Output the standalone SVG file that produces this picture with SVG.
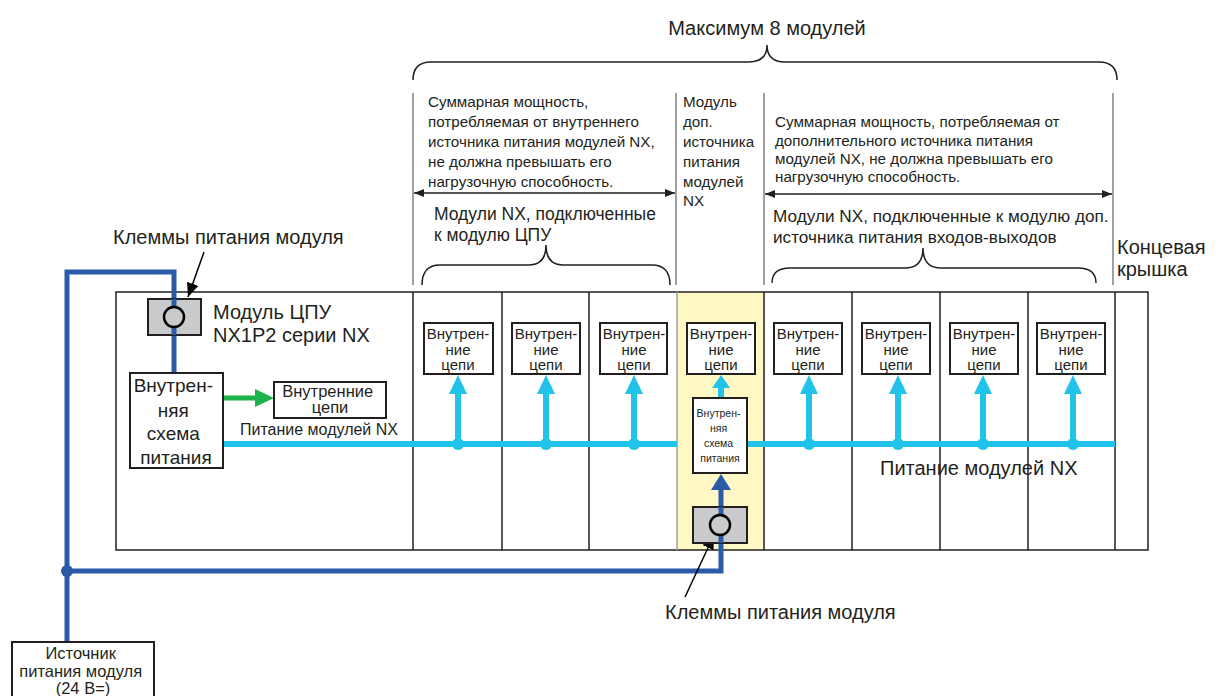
<svg xmlns="http://www.w3.org/2000/svg" width="1220" height="696" viewBox="0 0 1220 696">
  <defs>
    <style>
      text { font-family: "Liberation Sans", Arial, sans-serif; fill: #231f20; }
      .big { font-size: 20px; }
      .mid { font-size: 17.5px; }
      .small { font-size: 15.2px; }
      .box { fill: #ffffff; stroke: #231f20; stroke-width: 2; }
      .term { fill: #c9cacc; stroke: #231f20; stroke-width: 2; }
      .ring { fill: #c9cacc; stroke: #000; stroke-width: 2.5; }
      .mod { fill: none; stroke: #231f20; stroke-width: 1.5; }
      .dim { fill: none; stroke: #808080; stroke-width: 1.5; }
      .brace { fill: none; stroke: #231f20; stroke-width: 1.5; }
      .blue { fill: none; stroke: #2a5aa8; stroke-width: 5; }
      .cyan { fill: none; stroke: #22c3ea; stroke-width: 6; }
      .green { fill: none; stroke: #1db24b; stroke-width: 5; }
      .lead { fill: none; stroke: #000; stroke-width: 1.5; }
      .c { text-anchor: middle; }
    </style>
    <marker id="dimHead" viewBox="0 0 10 8" refX="10" refY="4" markerWidth="10" markerHeight="8" markerUnits="userSpaceOnUse" orient="auto-start-reverse">
      <path d="M0,0 L10,4 L0,8 Z" fill="#231f20"/>
    </marker>
    <marker id="leadHead" viewBox="0 0 14 12" refX="14" refY="6" markerWidth="14" markerHeight="12" markerUnits="userSpaceOnUse" orient="auto">
      <path d="M0,0 L14,6 L0,12 Z" fill="#000"/>
    </marker>
  </defs>

  <!-- rack of modules -->
  <g id="rack">
    <rect x="677" y="292" width="87" height="258" fill="#fff8c4"/>
    <rect x="116" y="292" width="1032" height="258" class="mod"/>
    <line x1="413" y1="292" x2="413" y2="550" class="mod"/>
    <line x1="502" y1="292" x2="502" y2="550" class="mod"/>
    <line x1="589" y1="292" x2="589" y2="550" class="mod"/>
    <line x1="677" y1="292" x2="677" y2="550" stroke="#a0a0a0" stroke-width="1.5"/>
    <line x1="764" y1="292" x2="764" y2="550" class="mod"/>
    <line x1="852" y1="292" x2="852" y2="550" class="mod"/>
    <line x1="940" y1="292" x2="940" y2="550" class="mod"/>
    <line x1="1028" y1="292" x2="1028" y2="550" class="mod"/>
    <line x1="1115" y1="292" x2="1115" y2="550" class="mod"/>
  </g>

  <!-- dimension annotations -->
  <g id="dimensions">
    <text x="767" y="35" class="big c">Максимум 8 модулей</text>
    <path class="brace" d="M413,80 Q413,62 431,62 L749,62 Q767,62 767,45 Q767,62 785,62 L1099,62 Q1117,62 1117,80"/>
    <line x1="413" y1="93" x2="413" y2="285" class="dim"/>
    <line x1="676" y1="93" x2="676" y2="285" class="dim"/>
    <line x1="764" y1="93" x2="764" y2="285" class="dim"/>
    <line x1="1113" y1="93" x2="1113" y2="285" class="dim"/>
    <line x1="414" y1="193" x2="675" y2="193" stroke="#231f20" stroke-width="1.5" marker-start="url(#dimHead)" marker-end="url(#dimHead)"/>
    <line x1="765" y1="194" x2="1112" y2="194" stroke="#231f20" stroke-width="1.5" marker-start="url(#dimHead)" marker-end="url(#dimHead)"/>

    <text class="small">
      <tspan x="428" y="107">Суммарная мощность,</tspan>
      <tspan x="428" y="127">потребляемая от внутреннего</tspan>
      <tspan x="428" y="147">источника питания модулей NX,</tspan>
      <tspan x="428" y="167">не должна превышать его</tspan>
      <tspan x="428" y="187">нагрузочную способность.</tspan>
    </text>
    <text class="small">
      <tspan x="683" y="107">Модуль</tspan>
      <tspan x="683" y="127">доп.</tspan>
      <tspan x="683" y="147">источника</tspan>
      <tspan x="683" y="167">питания</tspan>
      <tspan x="683" y="187">модулей</tspan>
      <tspan x="683" y="206">NX</tspan>
    </text>
    <text class="small">
      <tspan x="775" y="127">Суммарная мощность, потребляемая от</tspan>
      <tspan x="775" y="146">дополнительного источника питания</tspan>
      <tspan x="775" y="164">модулей NX, не должна превышать его</tspan>
      <tspan x="775" y="182">нагрузочную способность.</tspan>
    </text>

    <text class="mid">
      <tspan x="434" y="220">Модули NX, подключенные</tspan>
      <tspan x="434" y="241">к модулю ЦПУ</tspan>
    </text>
    <path class="brace" d="M422,285 Q422,265 440,265 L529,265 Q546,265 546,245 Q546,265 563,265 L652,265 Q670,265 670,285"/>

    <text font-size="17.2">
      <tspan x="773" y="222">Модули NX, подключенные к модулю доп.</tspan>
      <tspan x="773" y="243">источника питания входов-выходов</tspan>
    </text>
    <path class="brace" d="M772,283 Q772,268 790,268 L905,268 Q923,268 923,248 Q923,268 941,268 L1078,268 Q1096,268 1096,283"/>

    <text class="big">
      <tspan x="1117" y="254">Концевая</tspan>
      <tspan x="1117" y="276">крышка</tspan>
    </text>
  </g>

  <!-- wiring -->
  <g id="connectors">
    <!-- 24 V supply lines -->
    <path class="blue" d="M67,642 L67,272 L174,272 L174,373"/>
    <path class="blue" d="M67,571 L721,571 L721,490"/>
    <circle cx="67" cy="571" r="6" fill="#2a5aa8"/>
    <path d="M711,490 L721,474 L731,490 Z" fill="#2a5aa8"/>
    <!-- CPU internal supply -->
    <line x1="223" y1="398" x2="257" y2="398" class="green"/>
    <path d="M255,389 L274,398 L255,407 Z" fill="#1db24b"/>
    <!-- NX bus -->
    <line x1="223" y1="444" x2="677" y2="444" class="cyan"/>
    <line x1="747" y1="444" x2="1115" y2="444" class="cyan"/>
    <g fill="#22c3ea">
      <circle cx="458" cy="444" r="6"/>
      <circle cx="546" cy="444" r="6"/>
      <circle cx="634" cy="444" r="6"/>
      <circle cx="809" cy="444" r="6"/>
      <circle cx="898" cy="444" r="6"/>
      <circle cx="983" cy="444" r="6"/>
      <circle cx="1073" cy="444" r="6"/>
    </g>
    <g class="cyan">
      <line x1="458" y1="444" x2="458" y2="392"/>
      <line x1="546" y1="444" x2="546" y2="392"/>
      <line x1="634" y1="444" x2="634" y2="392"/>
      <line x1="721" y1="398" x2="721" y2="386"/>
      <line x1="809" y1="444" x2="809" y2="392"/>
      <line x1="898" y1="444" x2="898" y2="392"/>
      <line x1="983" y1="444" x2="983" y2="392"/>
      <line x1="1073" y1="444" x2="1073" y2="392"/>
    </g>
    <g fill="#22c3ea">
      <path d="M449,394 L458,375 L467,394 Z"/>
      <path d="M537,394 L546,375 L555,394 Z"/>
      <path d="M625,394 L634,375 L643,394 Z"/>
      <path d="M712,388 L721,375 L730,388 Z"/>
      <path d="M800,394 L809,375 L818,394 Z"/>
      <path d="M889,394 L898,375 L907,394 Z"/>
      <path d="M974,394 L983,375 L992,394 Z"/>
      <path d="M1064,394 L1073,375 L1082,394 Z"/>
    </g>
    <!-- terminal leaders -->
    <line x1="204" y1="252" x2="188" y2="297" class="lead" marker-end="url(#leadHead)"/>
    <line x1="685" y1="597" x2="714" y2="535" class="lead" marker-end="url(#leadHead)"/>
  </g>

  <!-- CPU unit -->
  <g id="cpu-unit">
    <text x="113" y="244" class="big">Клеммы питания модуля</text>
    <rect x="148" y="299" width="53" height="36" class="term"/>
    <line x1="174" y1="299" x2="174" y2="335" class="blue"/>
    <circle cx="174" cy="317" r="10" class="ring"/>
    <text class="big">
      <tspan x="213" y="319">Модуль ЦПУ</tspan>
      <tspan x="213" y="342">NX1P2 серии NX</tspan>
    </text>
    <rect x="130" y="373" width="93" height="95" class="box"/>
    <text class="c" font-size="19">
      <tspan x="176" y="392">Внутрен-</tspan>
      <tspan x="176" y="417">няя</tspan>
      <tspan x="176" y="440">схема</tspan>
      <tspan x="176" y="464">питания</tspan>
    </text>
    <rect x="274" y="382" width="112" height="36" class="box"/>
    <text class="c" font-size="16.5">
      <tspan x="330" y="397">Внутренние</tspan>
      <tspan x="330" y="413">цепи</tspan>
    </text>
    <text x="240" y="435" font-size="16">Питание модулей NX</text>
  </g>

  <!-- I/O modules -->
  <g id="io-modules" font-size="15">
    <g id="io-1"><rect x="424" y="323" width="69" height="51" class="box"/><text class="c"><tspan x="458" y="339">Внутрен-</tspan><tspan x="458" y="355">ние</tspan><tspan x="458" y="370">цепи</tspan></text></g>
    <g id="io-2"><rect x="512" y="323" width="68" height="51" class="box"/><text class="c"><tspan x="546" y="339">Внутрен-</tspan><tspan x="546" y="355">ние</tspan><tspan x="546" y="370">цепи</tspan></text></g>
    <g id="io-3"><rect x="600" y="323" width="67" height="51" class="box"/><text class="c"><tspan x="634" y="339">Внутрен-</tspan><tspan x="634" y="355">ние</tspan><tspan x="634" y="370">цепи</tspan></text></g>
    <g id="io-5"><rect x="774" y="323" width="68" height="51" class="box"/><text class="c"><tspan x="808" y="339">Внутрен-</tspan><tspan x="808" y="355">ние</tspan><tspan x="808" y="370">цепи</tspan></text></g>
    <g id="io-6"><rect x="862" y="323" width="68" height="51" class="box"/><text class="c"><tspan x="896" y="339">Внутрен-</tspan><tspan x="896" y="355">ние</tspan><tspan x="896" y="370">цепи</tspan></text></g>
    <g id="io-7"><rect x="950" y="323" width="68" height="51" class="box"/><text class="c"><tspan x="984" y="339">Внутрен-</tspan><tspan x="984" y="355">ние</tspan><tspan x="984" y="370">цепи</tspan></text></g>
    <g id="io-8"><rect x="1037" y="323" width="68" height="51" class="box"/><text class="c"><tspan x="1071" y="339">Внутрен-</tspan><tspan x="1071" y="355">ние</tspan><tspan x="1071" y="370">цепи</tspan></text></g>
  </g>

  <!-- additional I/O power supply unit -->
  <g id="power-unit">
    <rect x="687" y="323" width="68" height="51" class="box"/>
    <text class="c" font-size="15"><tspan x="721" y="339">Внутрен-</tspan><tspan x="721" y="355">ние</tspan><tspan x="721" y="370">цепи</tspan></text>
    <rect x="693" y="398" width="54" height="75" class="box"/>
    <text class="c" font-size="10.5">
      <tspan x="720" y="417">Внутрен-</tspan>
      <tspan x="720" y="432">няя</tspan>
      <tspan x="720" y="447">схема</tspan>
      <tspan x="720" y="462">питания</tspan>
    </text>
    <rect x="693" y="507" width="54" height="36" class="term"/>
    <line x1="721" y1="507" x2="721" y2="543" class="blue"/>
    <circle cx="720" cy="525" r="10" class="ring"/>
  </g>

  <text x="880" y="475" class="big">Питание модулей NX</text>
  <text x="665" y="619" class="big">Клеммы питания модуля</text>

  <!-- external supply -->
  <g id="supply">
    <rect x="12" y="642" width="142" height="60" class="box"/>
    <text class="c" font-size="16.5">
      <tspan x="83" y="659">Источник</tspan>
      <tspan x="83" y="677">питания модуля</tspan>
      <tspan x="83" y="694">(24 В=)</tspan>
    </text>
  </g>
</svg>
